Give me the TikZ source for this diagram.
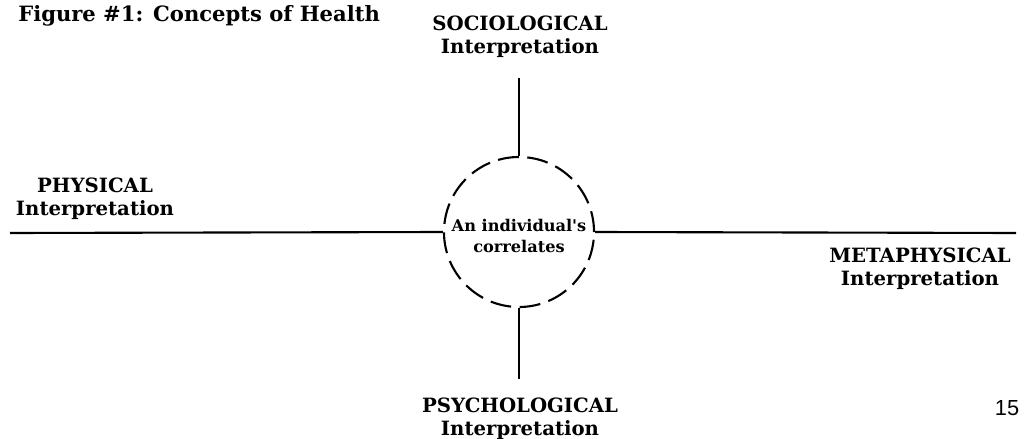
\documentclass[tikz,border=0pt]{standalone}
\usepackage{fontspec}
\setmainfont{DejaVu Serif}
\setsansfont{Liberation Sans}
\usepackage{tikz}
\usetikzlibrary{positioning}

\tikzset{
	axisline/.style={line width=1.5pt, black},
	viewlabel/.style={font=\fontsize{14}{16}\selectfont\bfseries, align=center, inner sep=0pt, anchor=north}
}

\begin{document}
\begin{tikzpicture}[x=0.025cm, y=-0.025cm]
		\useasboundingbox (0,0) rectangle (1024,439);
		\node[font=\fontsize{15}{18}\selectfont\bfseries, anchor=north west, inner sep=0pt](figTitle) at (18,5){Figure \#1: Concepts of Health};
		\node[circle, draw, dash pattern=on 0.525cm off 0.2125cm, line width=1.5pt, minimum size=3.75cm, inner sep=0pt](indiv) at (519,232){};
		\node[font=\fontsize{11.5}{15}\selectfont\bfseries, align=center, inner sep=0pt](indivText) at (519,236){An individual\textquotesingle s\\correlates};
		\node[viewlabel](socioLabel) at (520,16){SOCIOLOGICAL\\Interpretation};
		\node[viewlabel](physLabel) at (95,178){PHYSICAL\\Interpretation};
		\node[viewlabel](metaLabel) at (920,248){METAPHYSICAL\\Interpretation};
		\node[viewlabel](psychLabel) at (520,398){PSYCHOLOGICAL\\Interpretation};
		\node[font=\sffamily\fontsize{15.5}{18}\selectfont, inner sep=0pt](pageNum) at (1007,408){15};
		\coordinate(socioEnd) at (519,78);
		\coordinate(psychEnd) at (519,379);
		\coordinate(physEnd) at (10,233);
		\coordinate(metaEnd) at (1016,233);
		\draw[axisline] (socioEnd) -- (indiv.north);
		\draw[axisline] (indiv.south) -- (psychEnd);
		\draw[axisline] (physEnd) -- (indiv.west);
		\draw[axisline] (indiv.east) -- (metaEnd);
	\end{tikzpicture}
\end{document}
